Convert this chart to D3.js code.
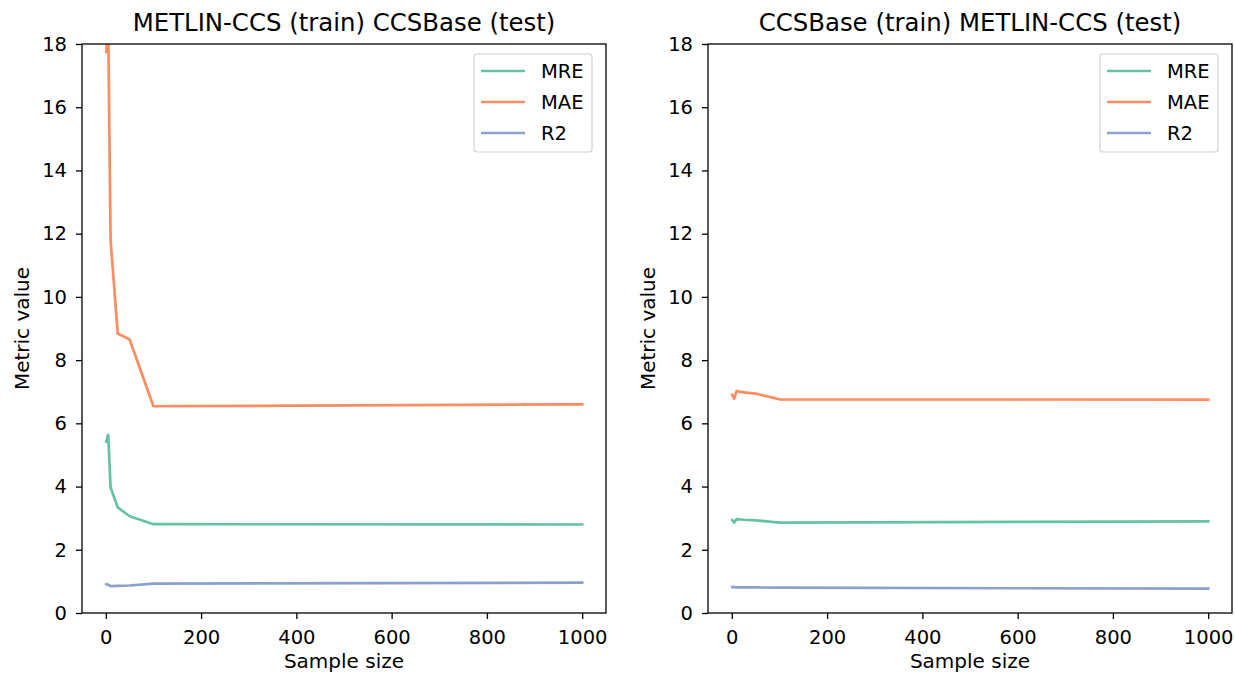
<!DOCTYPE html>
<html><head><meta charset="utf-8">
<script src="https://cdn.jsdelivr.net/npm/d3@7"></script>
<style>body{margin:0;background:#fff;} svg{display:block;font-family:"DejaVu Sans",sans-serif;}</style>
</head><body>
<svg id="c" width="1235" height="676"></svg>
<script>
const sampleSizes = [1, 5, 10, 25, 50, 100, 1000];
const seriesNames = ["MRE", "MAE", "R2"];
const colors = ["#66c2a5", "#fc8d62", "#8da0cb"];
const titles = ["METLIN-CCS (train) CCSBase (test)", "CCSBase (train) METLIN-CCS (test)"];
// left panel
const leftMRE = [5.42, 5.64, 3.97, 3.34, 3.06, 2.81, 2.80];
const leftMAE = [17.75, 18.6, 11.8, 8.84, 8.65, 6.54, 6.60];
const leftR2  = [0.91, 0.90, 0.85, 0.86, 0.87, 0.93, 0.96];
// right panel
const rightMRE = [2.94, 2.86, 2.97, 2.95, 2.93, 2.86, 2.90];
const rightMAE = [6.90, 6.78, 7.02, 6.98, 6.94, 6.76, 6.75];
const rightR2  = [0.82, 0.82, 0.81, 0.81, 0.81, 0.80, 0.77];
const xTicks = [0, 200, 400, 600, 800, 1000];
const yTicks = [0, 2, 4, 6, 8, 10, 12, 14, 16, 18];

(function () {
const panels = [
  {left: 82, title: titles[0], data: [leftMRE, leftMAE, leftR2]},
  {left: 708, title: titles[1], data: [rightMRE, rightMAE, rightR2]}
];
const W = 524, plotTop = 44, plotBottom = 613;
const svg = d3.select("#c");

panels.forEach((p, i) => {
  const x = d3.scaleLinear().domain([-50, 1050]).range([p.left, p.left + W]);
  const y = d3.scaleLinear().domain([0, 18]).range([plotBottom, plotTop]);
  const g = svg.append("g");
  const cid = "clip" + i;
  svg.append("clipPath").attr("id", cid).append("rect")
    .attr("x", p.left).attr("y", plotTop).attr("width", W).attr("height", plotBottom - plotTop);

  const line = d3.line().x((d, j) => x(sampleSizes[j])).y(d => y(d));
  p.data.forEach((vals, k) => {
    g.append("path").datum(vals).attr("d", line)
      .attr("fill", "none").attr("stroke", colors[k]).attr("stroke-width", 2.7)
      .attr("stroke-linejoin", "round").attr("stroke-linecap", "square")
      .attr("clip-path", `url(#${cid})`);
  });

  g.append("rect").attr("x", p.left).attr("y", plotTop).attr("width", W).attr("height", plotBottom - plotTop)
    .attr("fill", "none").attr("stroke", "#000").attr("stroke-width", 1.3);

  const xa = g.append("g").attr("transform", `translate(0,${plotBottom})`)
    .call(d3.axisBottom(x).tickValues(xTicks).tickSize(6).tickPadding(11).tickFormat(d3.format("d")));
  const ya = g.append("g").attr("transform", `translate(${p.left},0)`)
    .call(d3.axisLeft(y).tickValues(yTicks).tickSize(6).tickPadding(9).tickFormat(d3.format("d")));
  [xa, ya].forEach(a => {
    a.select(".domain").remove();
    a.selectAll("line").attr("stroke", "#000").attr("stroke-width", 1.3);
    a.selectAll("text").attr("font-size", 19.5).attr("fill", "#000").attr("font-family", "DejaVu Sans");
  });

  g.append("text").attr("x", p.left + W / 2).attr("y", 31).attr("text-anchor", "middle")
    .attr("font-size", 24.4).text(p.title);
  g.append("text").attr("x", x(500)).attr("y", 668).attr("text-anchor", "middle")
    .attr("font-size", 20).text("Sample size");
  g.append("text").attr("transform", `translate(${p.left - 53},${(plotTop + plotBottom) / 2}) rotate(-90)`)
    .attr("text-anchor", "middle").attr("font-size", 20).text("Metric value");

  const lx = p.left + W - 132, ly = 54;
  g.append("rect").attr("x", lx).attr("y", ly).attr("width", 118).attr("height", 98)
    .attr("rx", 3).attr("fill", "#fff").attr("fill-opacity", 0.8).attr("stroke", "#d0d0d0").attr("stroke-width", 1.2);
  seriesNames.forEach((n, k) => {
    const yy = ly + 17 + k * 31;
    g.append("line").attr("x1", lx + 7).attr("x2", lx + 51).attr("y1", yy).attr("y2", yy)
      .attr("stroke", colors[k]).attr("stroke-width", 2.7);
    g.append("text").attr("x", lx + 67).attr("y", yy).attr("dy", "0.36em")
      .attr("font-size", 19.5).text(n);
  });
});
})();
</script>
</body></html>
